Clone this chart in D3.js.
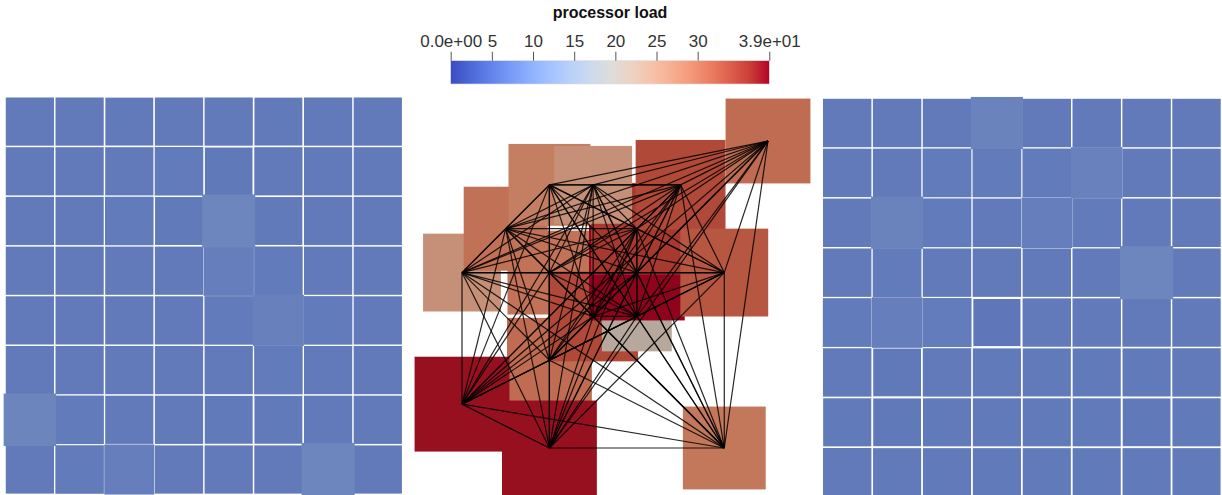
<!DOCTYPE html>
<html>
<head>
<meta charset="utf-8">
<script src="https://cdn.jsdelivr.net/npm/d3@7"></script>
<style>
  body { margin: 0; background: #fff; }
  text { font-family: "Liberation Sans", Arial, sans-serif; }
</style>
</head>
<body>
<div id="chart"></div>
<script>
// load range of the colour map
var maxLoad = 38.7
var tickValues = [0, 5, 10, 15, 20, 25, 30, 38.7]
var tickLabels = ['0.0e+00', '5', '10', '15', '20', '25', '30', '3.9e+01']

// cool to warm colour map (fraction of range, colour)
var mapStops = [0, 0.0625, 0.125, 0.1875, 0.25, 0.3125, 0.375, 0.4375, 0.5,
    0.5625, 0.625, 0.6875, 0.75, 0.8125, 0.875, 0.9375, 1]
var mapColors = ['#3b4cc0', '#4d68d7', '#6282ea', '#779af7', '#8db0fe', '#a3c2ff',
    '#b8d0f9', '#ccd9ee', '#dddddd', '#ecd3c5', '#f5c4ad', '#f7b194', '#f49a7b',
    '#ec7f63', '#de604d', '#cb3e38', '#b40426']

// loads per rank before balancing, rows top to bottom
var leftLoads = [
    [7.6, 7.6, 7.5, 7.6, 7.6, 7.5, 7.6, 7.6],
    [7.6, 7.6, 7.6, 7.7, 7.4, 7.6, 7.6, 7.6],
    [7.6, 7.6, 7.7, 7.5, 9.2, 7.5, 7.6, 7.6],
    [7.6, 7.6, 7.6, 7.6, 8.3, 7.7, 7.6, 7.6],
    [7.6, 7.6, 7.6, 7.6, 7.7, 8.5, 7.7, 7.6],
    [7.6, 7.6, 7.6, 7.6, 7.6, 7.7, 7.6, 7.6],
    [9.0, 7.7, 7.6, 7.6, 7.5, 7.5, 7.6, 7.6],
    [7.6, 7.7, 8.2, 7.6, 7.6, 7.6, 9.2, 7.6]
]

// loads per rank after balancing
var rightLoads = [
    [7.6, 7.6, 7.6, 8.8, 7.6, 7.6, 7.6, 7.6],
    [7.6, 7.6, 7.7, 7.7, 7.7, 8.6, 7.6, 7.6],
    [7.6, 8.8, 7.7, 7.6, 8.3, 7.7, 7.6, 7.6],
    [7.6, 7.7, 7.6, 7.6, 7.6, 7.6, 9.2, 7.6],
    [7.7, 8.3, 7.8, 7.2, 7.6, 7.6, 7.6, 7.6],
    [7.6, 7.4, 7.6, 7.5, 7.5, 7.5, 7.5, 7.6],
    [7.5, 7.4, 7.5, 7.5, 7.5, 7.5, 7.4, 7.5],
    [7.6, 7.5, 7.5, 7.5, 7.5, 7.5, 7.5, 7.5]
]

// merged nodes in the middle view, in drawing order
var nodeCols  = [0, 1, 2, 2, 2, 3, 4, 4, 4, 3, 5, 6, 7, 0, 2, 6]
var nodeRows  = [3, 2, 1, 3, 5, 4, 4, 3, 2, 1, 1, 3, 0, 6, 7, 7]
var nodeLoads = [25.6, 29.8, 28.3, 29.7, 30.4, 34.1, 20.6, 38.7, 35.5, 25.6, 34.1, 32.6, 30.4, 38.0, 38.0, 29.0]

var width = 1222
var height = 495

var svg = d3.select('#chart')
    .append('svg')
    .attr('width', width)
    .attr('height', height)

var color = d3.scaleLinear()
    .domain(mapStops.map(function (t) { return t * maxLoad }))
    .range(mapColors)
    .interpolate(d3.interpolateRgb)

// rough stand in for the renderer's lighting
function shade(v) {
    var c = d3.rgb(color(v))
    return d3.rgb(c.r * 0.8, c.g * 0.78, c.b * 0.75).formatHex()
}

// square side in grid steps, area follows load
var side = d3.scaleSqrt()
    .domain([0, maxLoad])
    .range([0, 0.352 * Math.sqrt(maxLoad)])

// colour bar
var bar = { x0: 450.7, x1: 769.3, y: 60.7, h: 23.3 }
var xBar = d3.scaleLinear()
    .domain([0, maxLoad])
    .range([bar.x0, bar.x1])

var grad = svg.append('defs').append('linearGradient')
    .attr('id', 'cmap')
grad.selectAll('stop')
    .data(mapStops)
    .enter()
    .append('stop')
    .attr('offset', function (d) { return d * 100 + '%' })
    .attr('stop-color', function (d, i) { return mapColors[i] })

svg.append('rect')
    .attr('x', bar.x0)
    .attr('y', bar.y)
    .attr('width', bar.x1 - bar.x0)
    .attr('height', bar.h)
    .style('fill', 'url(#cmap)')
    .style('stroke', '#ddd')
    .style('stroke-width', 0.6)

var barAxis = d3.axisTop(xBar)
    .tickValues(tickValues)
    .tickSize(9)
    .tickSizeOuter(0)
    .tickPadding(5)
    .tickFormat(function (d, i) { return tickLabels[i] })

var gBar = svg.append('g')
    .attr('transform', 'translate(0,' + bar.y + ')')
    .call(barAxis)
gBar.select('.domain').remove()
gBar.selectAll('.tick line').style('stroke', '#555').style('stroke-width', 1)
gBar.selectAll('.tick text')
    .style('font-size', '17px')
    .style('fill', '#333')

svg.append('text')
    .attr('x', (bar.x0 + bar.x1) / 2)
    .attr('y', 18)
    .style('text-anchor', 'middle')
    .style('font-size', '16px')
    .style('font-weight', 'bold')
    .style('fill', '#111')
    .text('processor load')

// side panels, 8 x 8 ranks
function gridPanel(loads, xr, yr) {
    var x = d3.scaleLinear().domain([0, 7]).range(xr)
    var y = d3.scaleLinear().domain([0, 7]).range(yr)
    var step = x(1) - x(0)
    var cells = []
    loads.forEach(function (row, r) {
        row.forEach(function (v, c) { cells.push({ row: r, col: c, load: v }) })
    })
    cells.sort(function (a, b) { return a.load - b.load })

    svg.append('g')
        .selectAll('rect')
        .data(cells)
        .enter()
        .append('rect')
        .attr('x', function (d) { return x(d.col) - side(d.load) * step / 2 })
        .attr('y', function (d) { return y(d.row) - side(d.load) * step / 2 })
        .attr('width', function (d) { return side(d.load) * step })
        .attr('height', function (d) { return side(d.load) * step })
        .style('fill', function (d) { return shade(d.load) })
}

gridPanel(leftLoads, [29.9, 377.8], [121.6, 469.5])
gridPanel(rightLoads, [847.2, 1196.5], [123, 472.2])

// middle panel, merged nodes and their full graph
var xm = d3.scaleLinear().domain([0, 7]).range([462, 768])
var ym = d3.scaleLinear().domain([0, 7]).range([141, 448])
var mStep = xm(1) - xm(0)

var nodes = nodeLoads.map(function (v, i) {
    return { col: nodeCols[i], row: nodeRows[i], load: v }
})

svg.append('g')
    .selectAll('rect')
    .data(nodes)
    .enter()
    .append('rect')
    .attr('x', function (d) { return xm(d.col) - side(d.load) * mStep / 2 })
    .attr('y', function (d) { return ym(d.row) - side(d.load) * mStep / 2 })
    .attr('width', function (d) { return side(d.load) * mStep })
    .attr('height', function (d) { return side(d.load) * mStep })
    .style('fill', function (d) { return shade(d.load) })

var links = []
nodes.forEach(function (a, i) {
    nodes.slice(i + 1).forEach(function (b) { links.push([a, b]) })
})

svg.append('g')
    .selectAll('line')
    .data(links)
    .enter()
    .append('line')
    .attr('x1', function (d) { return xm(d[0].col) })
    .attr('y1', function (d) { return ym(d[0].row) })
    .attr('x2', function (d) { return xm(d[1].col) })
    .attr('y2', function (d) { return ym(d[1].row) })
    .style('stroke', '#000')
    .style('stroke-width', 1.2)
    .style('stroke-opacity', 0.85)
</script>
</body>
</html>
